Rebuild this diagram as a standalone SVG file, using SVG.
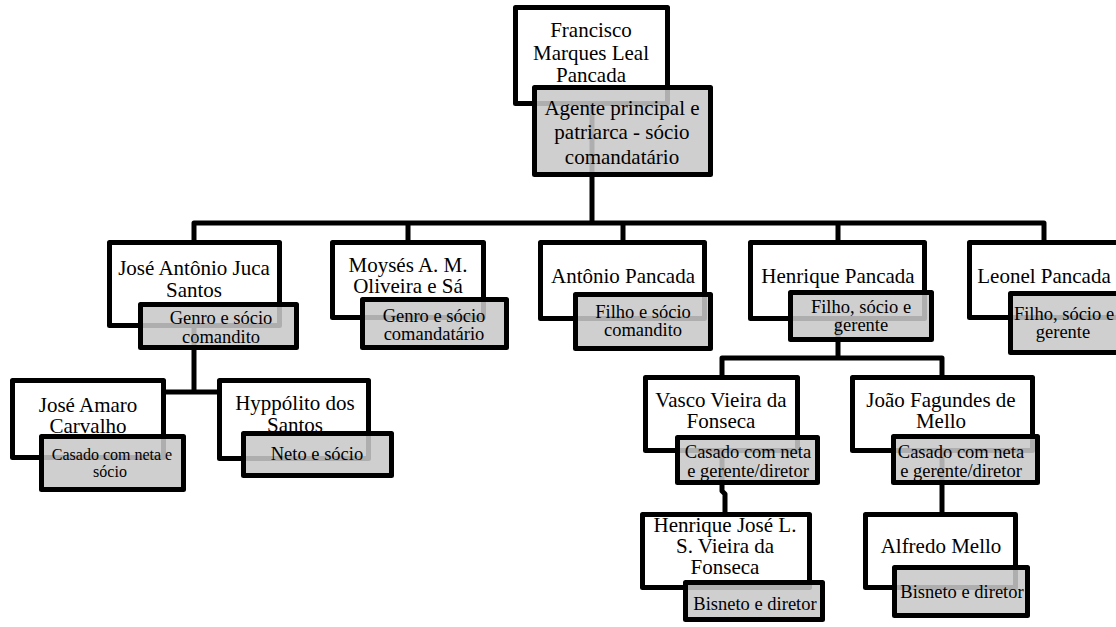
<svg xmlns="http://www.w3.org/2000/svg" width="1116" height="627" viewBox="0 0 1116 627" font-family="'Liberation Serif', 'Times New Roman', serif">
<style>
.w{fill:#fff;stroke:#000;stroke-width:5;stroke-linejoin:round}
.g{fill:#c8c8c8;fill-opacity:0.87;stroke:#000;stroke-width:5;stroke-linejoin:round}
.c{fill:none;stroke:#000;stroke-width:5;stroke-linejoin:round}
text{font-family:'Liberation Serif','Times New Roman',serif;text-anchor:middle;fill:#000}
.n{font-size:21px}
.r{font-size:18.5px}
.s{font-size:16px}
</style>
<rect width="1116" height="627" fill="#fff"/>
<g id="connectors">
<path class="c" d="M592,106 V223"/>
<path class="c" d="M194,242 V223 H1044 V242"/>
<path class="c" d="M408,223 V242 M623,223 V242 M838,223 V242"/>
<path class="c" d="M194,328 V392"/>
<path class="c" d="M88,380 V392 H293 V380"/>
<path class="c" d="M838,320 V358"/>
<path class="c" d="M722,377 V358 H942 V377"/>
<path class="c" d="M722,453 V491 L725,494 V514"/>
<path class="c" d="M942,453 V514"/>
</g>
<g id="francisco">
<rect class="w" x="515.5" y="7.5" width="152" height="96"/>
<text class="n" x="591" y="37">Francisco</text>
<text class="n" x="591" y="60">Marques Leal</text>
<text class="n" x="591" y="82">Pancada</text>
<rect class="g" x="534.5" y="87.5" width="176" height="87"/>
<text class="n" x="622" y="115">Agente principal e</text>
<text class="n" x="622" y="139">patriarca - sócio</text>
<text class="n" x="622" y="164">comandatário</text>
</g>
<g id="jose-antonio">
<rect class="w" x="109.5" y="242.5" width="170" height="83"/>
<text class="n" x="194" y="275">José Antônio Juca</text>
<text class="n" x="194" y="297">Santos</text>
<rect class="g" x="140.5" y="304.5" width="156" height="43"/>
<text class="r" x="221" y="324">Genro e sócio</text>
<text class="r" x="221" y="343">comandito</text>
</g>
<g id="moyses">
<rect class="w" x="332.5" y="242.5" width="151" height="75"/>
<text class="n" x="408" y="272">Moysés A. M.</text>
<text class="n" x="408" y="293">Oliveira e Sá</text>
<rect class="g" x="362.5" y="299.5" width="144" height="48"/>
<text class="r" x="434" y="322">Genro e sócio</text>
<text class="r" x="434" y="340">comandatário</text>
</g>
<g id="antonio">
<rect class="w" x="540.5" y="242.5" width="164" height="76"/>
<text class="n" x="623" y="283">Antônio Pancada</text>
<rect class="g" x="575.5" y="294.5" width="135" height="54"/>
<text class="r" x="643" y="318">Filho e sócio</text>
<text class="r" x="643" y="336">comandito</text>
</g>
<g id="henrique">
<rect class="w" x="750.5" y="242.5" width="174" height="76"/>
<text class="n" x="838" y="283">Henrique Pancada</text>
<rect class="g" x="790.5" y="292.5" width="141" height="47"/>
<text class="r" x="861" y="313">Filho, sócio e</text>
<text class="r" x="861" y="331">gerente</text>
</g>
<g id="leonel">
<rect class="w" x="969.5" y="242.5" width="150" height="75"/>
<text class="n" x="1044" y="283">Leonel Pancada</text>
<rect class="g" x="1010.5" y="293.5" width="130" height="59"/>
<text class="r" x="1064" y="320">Filho, sócio e</text>
<text class="r" x="1063" y="338">gerente</text>
</g>
<g id="jose-amaro">
<rect class="w" x="12.5" y="380.5" width="151" height="77"/>
<text class="n" x="88" y="412">José Amaro</text>
<text class="n" x="88" y="433">Carvalho</text>
<rect class="g" x="41.5" y="436.5" width="142" height="53"/>
<text class="s" x="112" y="460">Casado com neta e</text>
<text class="s" x="110" y="477">sócio</text>
</g>
<g id="hyppolito">
<rect class="w" x="219.5" y="380.5" width="149" height="78"/>
<text class="n" x="295" y="410">Hyppólito dos</text>
<text class="n" x="295" y="432">Santos</text>
<rect class="g" x="243.5" y="433.5" width="148" height="42"/>
<text class="r" x="317" y="460">Neto e sócio</text>
</g>
<g id="vasco">
<rect class="w" x="645.5" y="377.5" width="152" height="73"/>
<text class="n" x="721" y="407">Vasco Vieira da</text>
<text class="n" x="721" y="428">Fonseca</text>
<rect class="g" x="677.5" y="437.5" width="140" height="45"/>
<text class="r" x="748" y="458">Casado com neta</text>
<text class="r" x="748" y="477">e gerente/diretor</text>
</g>
<g id="joao">
<rect class="w" x="852.5" y="377.5" width="180" height="73"/>
<text class="n" x="941" y="407">João Fagundes de</text>
<text class="n" x="941" y="428">Mello</text>
<rect class="g" x="893.5" y="436.5" width="144" height="46"/>
<text class="r" x="961" y="458">Casado com neta</text>
<text class="r" x="961" y="477">e gerente/diretor</text>
</g>
<g id="henrique-jose">
<rect class="w" x="642.5" y="514.5" width="167" height="73"/>
<text class="n" x="725" y="532">Henrique José L.</text>
<text class="n" x="725" y="553">S. Vieira da</text>
<text class="n" x="725" y="574">Fonseca</text>
<rect class="g" x="685.5" y="582.5" width="137" height="37"/>
<text class="r" x="755" y="610">Bisneto e diretor</text>
</g>
<g id="alfredo">
<rect class="w" x="865.5" y="514.5" width="150" height="73"/>
<text class="n" x="941" y="553">Alfredo Mello</text>
<rect class="g" x="894.5" y="567.5" width="133" height="48"/>
<text class="r" x="962" y="598">Bisneto e diretor</text>
</g>
</svg>
